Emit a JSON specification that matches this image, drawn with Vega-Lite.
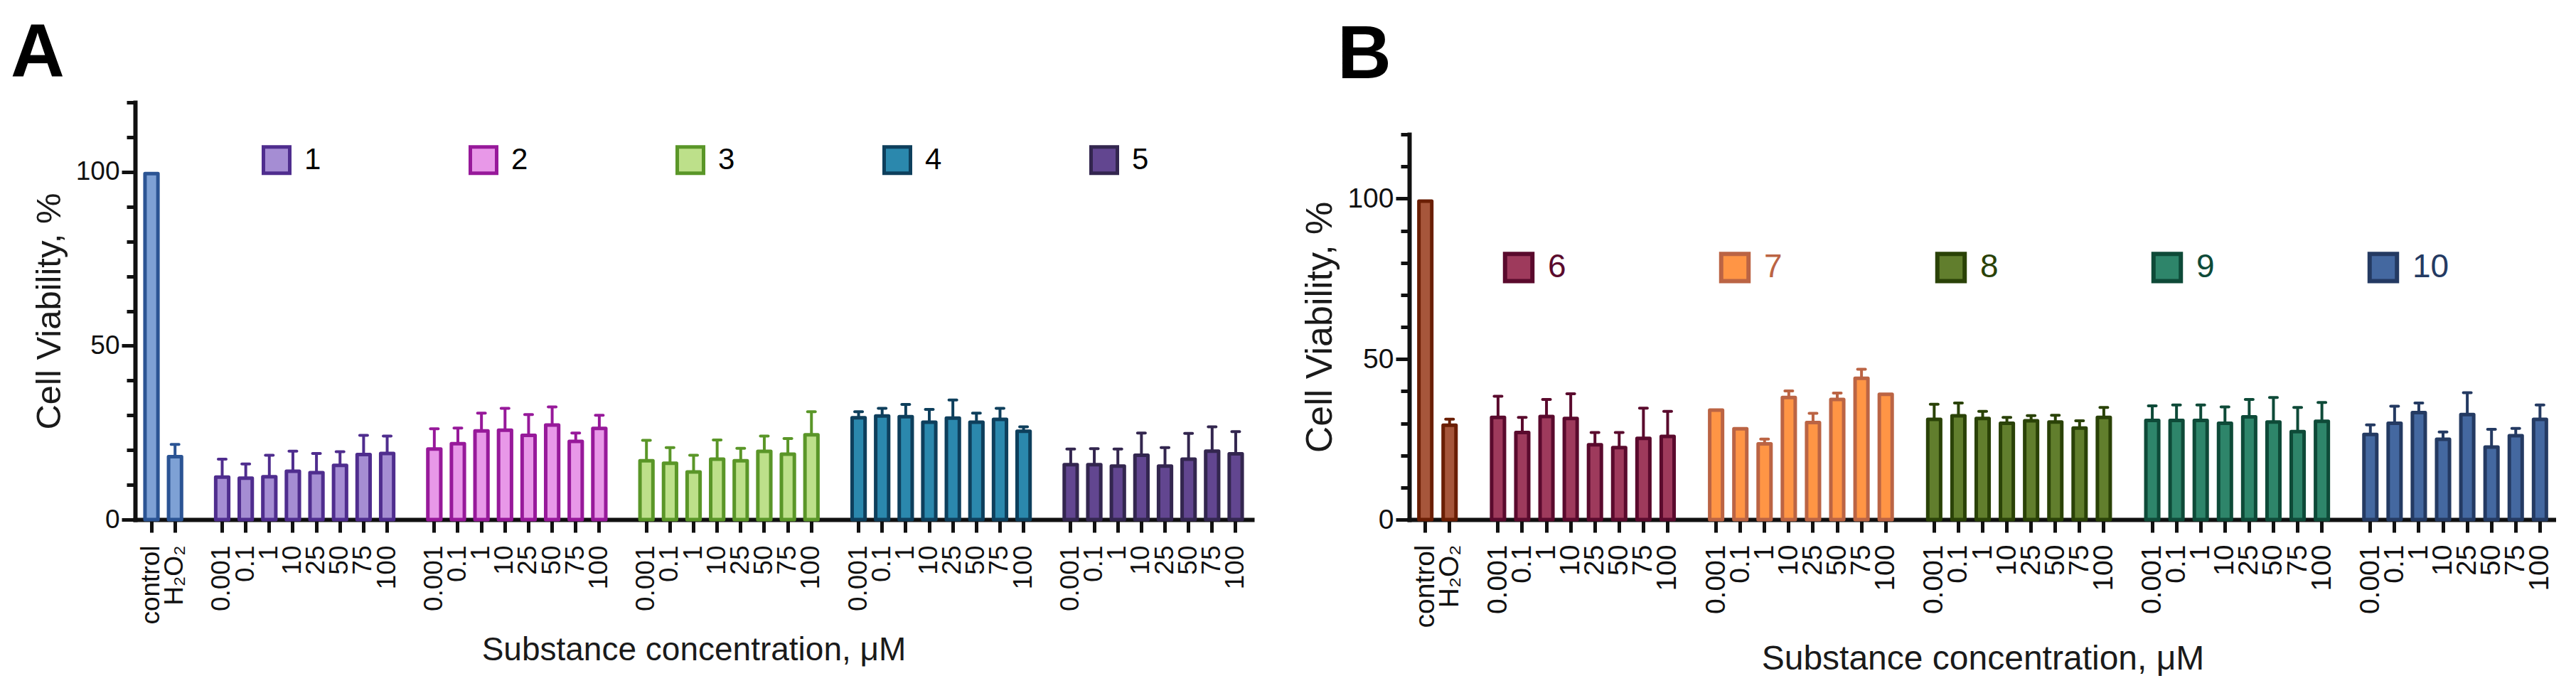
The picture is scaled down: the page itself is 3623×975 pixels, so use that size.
{
  "$schema": "https://vega.github.io/schema/vega-lite/v6.json",
  "background": "white",
  "padding": {"left": 15, "top": 23, "right": 0, "bottom": 0},
  "spacing": 69,
  "datasets": {
    "panelA": [
      {"key": "c|control", "grp": "ctrl", "mean": 99.5, "upper": null},
      {"key": "h|H₂O₂", "grp": "ctrl", "mean": 18.1, "upper": 21.6},
      {"key": "1|0.001", "grp": "1", "mean": 12.2, "upper": 17.4},
      {"key": "1|0.1", "grp": "1", "mean": 11.9, "upper": 16.0},
      {"key": "1|1", "grp": "1", "mean": 12.3, "upper": 18.5},
      {"key": "1|10", "grp": "1", "mean": 13.9, "upper": 19.7},
      {"key": "1|25", "grp": "1", "mean": 13.5, "upper": 19.0},
      {"key": "1|50", "grp": "1", "mean": 15.6, "upper": 19.5},
      {"key": "1|75", "grp": "1", "mean": 18.7, "upper": 24.2},
      {"key": "1|100", "grp": "1", "mean": 19.0, "upper": 24.0},
      {"key": "2|0.001", "grp": "2", "mean": 20.3, "upper": 26.1},
      {"key": "2|0.1", "grp": "2", "mean": 21.8, "upper": 26.3},
      {"key": "2|1", "grp": "2", "mean": 25.5, "upper": 30.6},
      {"key": "2|10", "grp": "2", "mean": 25.7, "upper": 32.0},
      {"key": "2|25", "grp": "2", "mean": 24.2, "upper": 30.2},
      {"key": "2|50", "grp": "2", "mean": 27.2, "upper": 32.4},
      {"key": "2|75", "grp": "2", "mean": 22.5, "upper": 24.9},
      {"key": "2|100", "grp": "2", "mean": 26.2, "upper": 30.0},
      {"key": "3|0.001", "grp": "3", "mean": 16.9, "upper": 22.8},
      {"key": "3|0.1", "grp": "3", "mean": 16.2, "upper": 20.7},
      {"key": "3|1", "grp": "3", "mean": 13.7, "upper": 18.5},
      {"key": "3|10", "grp": "3", "mean": 17.4, "upper": 22.9},
      {"key": "3|25", "grp": "3", "mean": 16.9, "upper": 20.5},
      {"key": "3|50", "grp": "3", "mean": 19.6, "upper": 24.0},
      {"key": "3|75", "grp": "3", "mean": 18.8, "upper": 23.3},
      {"key": "3|100", "grp": "3", "mean": 24.4, "upper": 31.0},
      {"key": "4|0.001", "grp": "4", "mean": 29.3, "upper": 31.0},
      {"key": "4|0.1", "grp": "4", "mean": 29.8, "upper": 32.0},
      {"key": "4|1", "grp": "4", "mean": 29.6, "upper": 33.1},
      {"key": "4|10", "grp": "4", "mean": 28.0, "upper": 31.7},
      {"key": "4|25", "grp": "4", "mean": 29.2, "upper": 34.4},
      {"key": "4|50", "grp": "4", "mean": 28.0, "upper": 30.6},
      {"key": "4|75", "grp": "4", "mean": 28.8, "upper": 32.0},
      {"key": "4|100", "grp": "4", "mean": 25.4, "upper": 26.7},
      {"key": "5|0.001", "grp": "5", "mean": 15.8, "upper": 20.3},
      {"key": "5|0.1", "grp": "5", "mean": 15.8, "upper": 20.4},
      {"key": "5|1", "grp": "5", "mean": 15.4, "upper": 20.3},
      {"key": "5|10", "grp": "5", "mean": 18.5, "upper": 24.9},
      {"key": "5|25", "grp": "5", "mean": 15.4, "upper": 20.7},
      {"key": "5|50", "grp": "5", "mean": 17.4, "upper": 24.8},
      {"key": "5|75", "grp": "5", "mean": 19.7, "upper": 26.7},
      {"key": "5|100", "grp": "5", "mean": 18.9, "upper": 25.3}
    ],
    "panelB": [
      {"key": "c|control", "grp": "ctrl", "mean": 99.2, "upper": null},
      {"key": "h|H₂O₂", "grp": "ctrl", "mean": 29.4, "upper": 31.3},
      {"key": "6|0.001", "grp": "6", "mean": 31.8, "upper": 38.4},
      {"key": "6|0.1", "grp": "6", "mean": 27.1, "upper": 31.8},
      {"key": "6|1", "grp": "6", "mean": 32.1, "upper": 37.4},
      {"key": "6|10", "grp": "6", "mean": 31.5, "upper": 39.2},
      {"key": "6|25", "grp": "6", "mean": 23.3, "upper": 27.1},
      {"key": "6|50", "grp": "6", "mean": 22.4, "upper": 27.1},
      {"key": "6|75", "grp": "6", "mean": 25.3, "upper": 34.7},
      {"key": "6|100", "grp": "6", "mean": 25.9, "upper": 33.7},
      {"key": "7|0.001", "grp": "7", "mean": 34.1, "upper": null},
      {"key": "7|0.1", "grp": "7", "mean": 28.3, "upper": null},
      {"key": "7|1", "grp": "7", "mean": 23.6, "upper": 25.1},
      {"key": "7|10", "grp": "7", "mean": 38.0, "upper": 40.1},
      {"key": "7|25", "grp": "7", "mean": 30.2, "upper": 33.1},
      {"key": "7|50", "grp": "7", "mean": 37.4, "upper": 39.4},
      {"key": "7|75", "grp": "7", "mean": 44.0, "upper": 46.8},
      {"key": "7|100", "grp": "7", "mean": 39.0, "upper": null},
      {"key": "8|0.001", "grp": "8", "mean": 31.2, "upper": 35.9},
      {"key": "8|0.1", "grp": "8", "mean": 32.3, "upper": 36.3},
      {"key": "8|1", "grp": "8", "mean": 31.5, "upper": 33.7},
      {"key": "8|10", "grp": "8", "mean": 30.0, "upper": 31.8},
      {"key": "8|25", "grp": "8", "mean": 30.8, "upper": 32.4},
      {"key": "8|50", "grp": "8", "mean": 30.4, "upper": 32.5},
      {"key": "8|75", "grp": "8", "mean": 28.5, "upper": 30.8},
      {"key": "8|100", "grp": "8", "mean": 31.8, "upper": 34.9},
      {"key": "9|0.001", "grp": "9", "mean": 30.9, "upper": 35.4},
      {"key": "9|0.1", "grp": "9", "mean": 30.9, "upper": 35.7},
      {"key": "9|1", "grp": "9", "mean": 30.9, "upper": 35.7},
      {"key": "9|10", "grp": "9", "mean": 30.0, "upper": 35.1},
      {"key": "9|25", "grp": "9", "mean": 32.0, "upper": 37.4},
      {"key": "9|50", "grp": "9", "mean": 30.4, "upper": 38.0},
      {"key": "9|75", "grp": "9", "mean": 27.4, "upper": 34.9},
      {"key": "9|100", "grp": "9", "mean": 30.6, "upper": 36.5},
      {"key": "10|0.001", "grp": "10", "mean": 26.5, "upper": 29.5},
      {"key": "10|0.1", "grp": "10", "mean": 30.0, "upper": 35.3},
      {"key": "10|1", "grp": "10", "mean": 33.3, "upper": 36.3},
      {"key": "10|10", "grp": "10", "mean": 25.0, "upper": 27.3},
      {"key": "10|25", "grp": "10", "mean": 32.7, "upper": 39.5},
      {"key": "10|50", "grp": "10", "mean": 22.6, "upper": 28.1},
      {"key": "10|75", "grp": "10", "mean": 26.1, "upper": 28.4},
      {"key": "10|100", "grp": "10", "mean": 31.2, "upper": 35.7}
    ]
  },
  "hconcat": [
    {
      "width": 1571,
      "height": 587,
      "data": {"name": "panelA"},
      "title": {"text": "A", "anchor": "start", "frame": "group", "dx": -175, "offset": 12, "fontSize": 105, "fontWeight": "bold", "color": "#000"},
      "encoding": {
        "x": {
          "field": "key", "type": "nominal", "sort": null,
          "scale": {
            "domain": ["c|control", "h|H₂O₂", "s1|",
              "1|0.001", "1|0.1", "1|1", "1|10", "1|25", "1|50", "1|75", "1|100", "s2|",
              "2|0.001", "2|0.1", "2|1", "2|10", "2|25", "2|50", "2|75", "2|100", "s3|",
              "3|0.001", "3|0.1", "3|1", "3|10", "3|25", "3|50", "3|75", "3|100", "s4|",
              "4|0.001", "4|0.1", "4|1", "4|10", "4|25", "4|50", "4|75", "4|100", "s5|",
              "5|0.001", "5|0.1", "5|1", "5|10", "5|25", "5|50", "5|75", "5|100"],
            "paddingInner": 0.45, "paddingOuter": 0.42
          },
          "axis": {
            "values": ["c|control", "h|H₂O₂",
              "1|0.001", "1|0.1", "1|1", "1|10", "1|25", "1|50", "1|75", "1|100",
              "2|0.001", "2|0.1", "2|1", "2|10", "2|25", "2|50", "2|75", "2|100",
              "3|0.001", "3|0.1", "3|1", "3|10", "3|25", "3|50", "3|75", "3|100",
              "4|0.001", "4|0.1", "4|1", "4|10", "4|25", "4|50", "4|75", "4|100",
              "5|0.001", "5|0.1", "5|1", "5|10", "5|25", "5|50", "5|75", "5|100"],
            "labelExpr": "split(datum.value, '|')[1]",
            "labelAngle": -90, "labelFontSize": 37, "labelPadding": 18,
            "tickSize": 18,
            "title": "Substance concentration, μM", "titleFontSize": 46, "titlePadding": 14
          }
        }
      },
      "layer": [
        {
          "mark": {"type": "bar", "strokeWidth": 5, "strokeJoin": "round"},
          "encoding": {
            "y": {
              "field": "mean", "type": "quantitative",
              "scale": {"domain": [0, 120], "nice": false},
              "axis": {
                "values": [0, 10, 20, 30, 40, 50, 60, 70, 80, 90, 100, 110, 120],
                "labelExpr": "datum.value % 50 === 0 ? datum.label : ''",
                "tickSize": {"condition": {"test": "datum.value % 50 === 0", "value": 19}, "value": 12},
                "labelFontSize": 37, "labelPadding": 3,
                "title": "Cell Viability, %", "titleFontSize": 49, "titlePadding": 12
              }
            },
            "fill": {
              "field": "grp", "type": "nominal",
              "scale": {"domain": ["ctrl", "1", "2", "3", "4", "5"], "range": ["#7ea1d5", "#a58dd3", "#e898e8", "#bde08a", "#2b88ad", "#624690"]},
              "legend": {"orient": "none", "legendX": 178, "legendY": 60, "direction": "horizontal", "columns": 5, "title": null, "values": ["1", "2", "3", "4", "5"], "symbolType": "square", "symbolSize": 1369, "symbolStrokeWidth": 5, "labelFontSize": 42, "labelColor": "#000", "labelOffset": 18, "columnPadding": 199, "padding": 0}
            },
            "stroke": {
              "field": "grp", "type": "nominal",
              "scale": {"domain": ["ctrl", "1", "2", "3", "4", "5"], "range": ["#2b5494", "#4f2d8e", "#97199a", "#5a9628", "#0e3f5c", "#33264f"]},
              "legend": {"orient": "none", "legendX": 178, "legendY": 60, "direction": "horizontal", "columns": 5, "title": null, "values": ["1", "2", "3", "4", "5"], "symbolType": "square", "symbolSize": 1369, "symbolStrokeWidth": 5, "labelFontSize": 42, "labelColor": "#000", "labelOffset": 18, "columnPadding": 199, "padding": 0}
            }
          }
        },
        {
          "transform": [{"filter": "datum.upper != null"}],
          "mark": {"type": "rule", "strokeWidth": 4},
          "encoding": {
            "y": {"field": "mean", "type": "quantitative"},
            "y2": {"field": "upper"},
            "color": {
              "field": "grp", "type": "nominal", "legend": null,
              "scale": {"domain": ["ctrl", "1", "2", "3", "4", "5"], "range": ["#2b5494", "#4f2d8e", "#97199a", "#5a9628", "#0e3f5c", "#33264f"]}
            }
          }
        },
        {
          "transform": [{"filter": "datum.upper != null"}],
          "mark": {"type": "tick", "thickness": 4, "size": 15, "cornerRadius": 2, "opacity": 1},
          "encoding": {
            "y": {"field": "upper", "type": "quantitative"},
            "color": {"field": "grp", "type": "nominal", "legend": null}
          }
        }
      ]
    },
    {
      "width": 1613,
      "height": 587,
      "data": {"name": "panelB"},
      "title": {"text": "B", "anchor": "start", "frame": "group", "dx": -101, "offset": 12, "fontSize": 105, "fontWeight": "bold", "color": "#000"},
      "encoding": {
        "x": {
          "field": "key", "type": "nominal", "sort": null,
          "scale": {
            "domain": ["c|control", "h|H₂O₂", "s1|",
              "6|0.001", "6|0.1", "6|1", "6|10", "6|25", "6|50", "6|75", "6|100", "s2|",
              "7|0.001", "7|0.1", "7|1", "7|10", "7|25", "7|50", "7|75", "7|100", "s3|",
              "8|0.001", "8|0.1", "8|1", "8|10", "8|25", "8|50", "8|75", "8|100", "s4|",
              "9|0.001", "9|0.1", "9|1", "9|10", "9|25", "9|50", "9|75", "9|100", "s5|",
              "10|0.001", "10|0.1", "10|1", "10|10", "10|25", "10|50", "10|75", "10|100"],
            "paddingInner": 0.47, "paddingOuter": 0.4
          },
          "axis": {
            "values": ["c|control", "h|H₂O₂",
              "6|0.001", "6|0.1", "6|1", "6|10", "6|25", "6|50", "6|75", "6|100",
              "7|0.001", "7|0.1", "7|1", "7|10", "7|25", "7|50", "7|75", "7|100",
              "8|0.001", "8|0.1", "8|1", "8|10", "8|25", "8|50", "8|75", "8|100",
              "9|0.001", "9|0.1", "9|1", "9|10", "9|25", "9|50", "9|75", "9|100",
              "10|0.001", "10|0.1", "10|1", "10|10", "10|25", "10|50", "10|75", "10|100"],
            "labelExpr": "split(datum.value, '|')[1]",
            "labelAngle": -90, "labelFontSize": 39, "labelPadding": 17,
            "tickSize": 18,
            "title": "Substance concentration, μM", "titleFontSize": 48, "titlePadding": 20
          }
        }
      },
      "layer": [
        {
          "mark": {"type": "bar", "strokeWidth": 5, "strokeJoin": "round"},
          "encoding": {
            "y": {
              "field": "mean", "type": "quantitative",
              "scale": {"domain": [0, 120], "nice": false, "range": [587, 45]},
              "axis": {
                "values": [0, 10, 20, 30, 40, 50, 60, 70, 80, 90, 100, 110, 120],
                "labelExpr": "datum.value % 50 === 0 ? datum.label : ''",
                "tickSize": {"condition": {"test": "datum.value % 50 === 0", "value": 19}, "value": 12},
                "labelFontSize": 39, "labelPadding": 3,
                "title": "Cell Viability, %", "titleFontSize": 52, "titlePadding": 11
              }
            },
            "fill": {
              "field": "grp", "type": "nominal",
              "scale": {"domain": ["ctrl", "6", "7", "8", "9", "10"], "range": ["#a6563b", "#9e3a5c", "#ff9545", "#617e2d", "#2e856a", "#4468a0"]},
              "legend": {"orient": "none", "legendX": 131, "legendY": 209, "direction": "horizontal", "columns": 5, "title": null, "values": ["6", "7", "8", "9", "10"], "symbolType": "square", "symbolSize": 1480, "symbolStrokeWidth": 6, "labelFontSize": 46, "labelOffset": 18, "columnPadding": 205, "padding": 0,
                "encode": {"labels": {"update": {"fill": {"signal": "datum.label === '6' ? '#5a0a2d' : datum.label === '7' ? '#bb6444' : datum.label === '8' ? '#2a4207' : datum.label === '9' ? '#0e4a38' : '#243a62'"}}}}}
            },
            "stroke": {
              "field": "grp", "type": "nominal",
              "scale": {"domain": ["ctrl", "6", "7", "8", "9", "10"], "range": ["#6a1e04", "#5a0a2d", "#bb6444", "#2a4207", "#0e4a38", "#243a62"]},
              "legend": {"orient": "none", "legendX": 131, "legendY": 209, "direction": "horizontal", "columns": 5, "title": null, "values": ["6", "7", "8", "9", "10"], "symbolType": "square", "symbolSize": 1480, "symbolStrokeWidth": 6, "labelFontSize": 46, "labelOffset": 18, "columnPadding": 205, "padding": 0,
                "encode": {"labels": {"update": {"fill": {"signal": "datum.label === '6' ? '#5a0a2d' : datum.label === '7' ? '#bb6444' : datum.label === '8' ? '#2a4207' : datum.label === '9' ? '#0e4a38' : '#243a62'"}}}}}
            }
          }
        },
        {
          "transform": [{"filter": "datum.upper != null"}],
          "mark": {"type": "rule", "strokeWidth": 4},
          "encoding": {
            "y": {"field": "mean", "type": "quantitative"},
            "y2": {"field": "upper"},
            "color": {
              "field": "grp", "type": "nominal", "legend": null,
              "scale": {"domain": ["ctrl", "6", "7", "8", "9", "10"], "range": ["#6a1e04", "#5a0a2d", "#bb6444", "#2a4207", "#0e4a38", "#243a62"]}
            }
          }
        },
        {
          "transform": [{"filter": "datum.upper != null"}],
          "mark": {"type": "tick", "thickness": 4, "size": 15, "cornerRadius": 2, "opacity": 1},
          "encoding": {
            "y": {"field": "upper", "type": "quantitative"},
            "color": {"field": "grp", "type": "nominal", "legend": null}
          }
        }
      ]
    }
  ],
  "resolve": {
    "scale": {"fill": "independent", "stroke": "independent", "color": "independent"},
    "legend": {"fill": "independent", "stroke": "independent", "color": "independent"}
  },
  "config": {
    "font": "Liberation Sans",
    "view": {"stroke": null},
    "axis": {
      "grid": false,
      "domainColor": "#111",
      "domainWidth": 6,
      "domainCap": "square",
      "tickColor": "#111",
      "tickWidth": 5,
      "labelColor": "#111",
      "titleColor": "#1a1a1a",
      "titleFontWeight": "normal",
      "labelFont": "Liberation Sans",
      "titleFont": "Liberation Sans",
      "labelLimit": 400
    },
    "legend": {"labelFont": "Liberation Sans"}
  }
}
